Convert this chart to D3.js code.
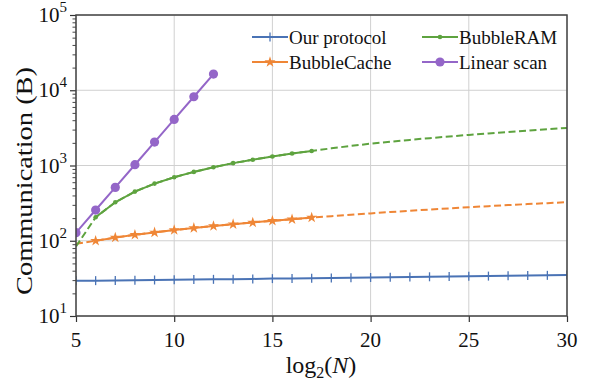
<!DOCTYPE html>
<html>
<head>
<meta charset="utf-8">
<script src="https://cdn.jsdelivr.net/npm/d3@7"></script>
</head>
<body style="margin:0">
<svg id="chart" width="589" height="381"></svg>
<script>
// x values: log2(N)
const xs = d3.range(5, 31);
const xTicks = [5, 10, 15, 20, 25, 30];
const yTicks = [1e1, 1e2, 1e3, 1e4, 1e5];

// measured part of the bubble curves (solid), rest is projected (dashed)
const measuredRange = [6, 17];

const ourProtocol = [29.3, 29.5, 29.7, 29.9, 30.1, 30.3, 30.5, 30.7, 30.9, 31.1, 31.4, 31.6, 31.8,
  32.0, 32.3, 32.5, 32.7, 33.0, 33.2, 33.4, 33.7, 33.9, 34.2, 34.4, 34.7, 35.0];
const bubbleCache = [91, 100, 110, 120, 129, 139, 148, 157, 166, 175, 184, 193, 203,
  212, 222, 231, 241, 250, 260, 269, 279, 288, 298, 307, 316, 326];
const bubbleRAM = [84, 205, 325, 450, 575, 698, 822, 949, 1075, 1195, 1320, 1445, 1560,
  1690, 1820, 1950, 2070, 2190, 2310, 2430, 2550, 2670, 2790, 2910, 3030, 3160];
const linearX = [5, 6, 7, 8, 9, 10, 11, 12];
const linearScan = [128, 256, 512, 1024, 2048, 4096, 8192, 16384];

const colors = { ours: '#4a73b5', cache: '#ef8636', ram: '#5ea33f', linear: '#9466c8' };
const serif = 'Liberation Serif';

const width = 589, height = 381;
const margin = { top: 15, right: 22, bottom: 65, left: 76 };
const innerWidth = width - margin.left - margin.right;
const innerHeight = height - margin.top - margin.bottom;

const svg = d3.select('#chart');
const g = svg.append('g').attr('transform', `translate(${margin.left},${margin.top})`);

const xScale = d3.scaleLinear().domain([5, 30]).range([0, innerWidth]);
const yScale = d3.scaleLog().domain([1e1, 1e5]).range([innerHeight, 0]);

svg.append('defs').append('clipPath').attr('id', 'clip')
  .append('rect').attr('width', innerWidth).attr('height', innerHeight);

// grid
g.append('g').selectAll('line').data(xTicks).join('line')
  .attr('x1', d => xScale(d)).attr('x2', d => xScale(d))
  .attr('y1', 0).attr('y2', innerHeight)
  .attr('stroke', '#d0d0d0').attr('stroke-width', 1);
g.append('g').selectAll('line').data(yTicks).join('line')
  .attr('y1', d => yScale(d)).attr('y2', d => yScale(d))
  .attr('x1', 0).attr('x2', innerWidth)
  .attr('stroke', '#d0d0d0').attr('stroke-width', 1);

// x axis ticks, labels drawn as plain texts
const xg = g.append('g').attr('transform', `translate(0,${innerHeight})`)
  .call(d3.axisBottom(xScale).tickValues(xTicks).tickSize(6).tickFormat(''));
xg.select('.domain').remove();
xg.selectAll('line').attr('stroke', '#333').attr('stroke-width', 1.2);
g.append('g').selectAll('text').data(xTicks).join('text')
  .attr('x', d => xScale(d)).attr('y', innerHeight + 31)
  .attr('text-anchor', 'middle').attr('font-family', serif).attr('font-size', 21).attr('fill', '#111')
  .text(d => d);

// y axis
const minorY = [];
for (let e = 1; e < 5; e++) for (let m = 2; m < 10; m++) minorY.push(m * Math.pow(10, e));
const yMinor = g.append('g').call(d3.axisLeft(yScale).tickValues(minorY).tickSize(3.5).tickFormat(''));
yMinor.select('.domain').remove();
yMinor.selectAll('line').attr('stroke', '#333').attr('stroke-width', 0.9);

const yg = g.append('g').call(d3.axisLeft(yScale).tickValues(yTicks).tickSize(6).tickFormat(''));
yg.select('.domain').remove();
yg.selectAll('line').attr('stroke', '#333').attr('stroke-width', 1.2);
const ylab = g.append('g').selectAll('text').data(yTicks).join('text')
  .attr('x', -9).attr('y', d => yScale(d) + 7).attr('text-anchor', 'end')
  .attr('font-family', serif).attr('font-size', 21).attr('fill', '#111');
ylab.append('tspan').text('10');
ylab.append('tspan').attr('font-size', 15).attr('dy', -10).text(d => Math.round(Math.log10(d)));

// series
const plot = g.append('g').attr('clip-path', 'url(#clip)');
const line = d3.line().x(d => xScale(d[0])).y(d => yScale(d[1]));
const pairs = (xv, yv) => xv.map((x, i) => [x, yv[i]]);
const inMeasured = d => d[0] >= measuredRange[0] && d[0] <= measuredRange[1];

const oursPts = pairs(xs, ourProtocol);
const cachePts = pairs(xs, bubbleCache);
const ramPts = pairs(xs, bubbleRAM);
const linPts = pairs(linearX, linearScan);

[[cachePts, colors.cache], [ramPts, colors.ram]].forEach(([pts, c]) => {
  plot.append('path').datum(pts).attr('d', line)
    .attr('fill', 'none').attr('stroke', c).attr('stroke-width', 2)
    .attr('stroke-dasharray', '7,3.5');
});

function solid(pts, c) {
  plot.append('path').datum(pts).attr('d', line)
    .attr('fill', 'none').attr('stroke', c).attr('stroke-width', 2);
}
solid(oursPts, colors.ours);
solid(cachePts.filter(inMeasured), colors.cache);
solid(ramPts.filter(inMeasured), colors.ram);
solid(linPts, colors.linear);

// markers
const star = d3.symbol().type(d3.symbolStar).size(38);
plot.append('g').selectAll('path').data(oursPts).join('path')
  .attr('d', d => `M${xScale(d[0])},${yScale(d[1]) - 4.5}v9`)
  .attr('stroke', colors.ours).attr('stroke-width', 1.3);
plot.append('g').selectAll('path').data(cachePts.filter(inMeasured)).join('path')
  .attr('d', star).attr('transform', d => `translate(${xScale(d[0])},${yScale(d[1])})`)
  .attr('fill', colors.cache);
plot.append('g').selectAll('circle').data(ramPts.filter(inMeasured)).join('circle')
  .attr('cx', d => xScale(d[0])).attr('cy', d => yScale(d[1])).attr('r', 2.3)
  .attr('fill', colors.ram);
plot.append('g').selectAll('circle').data(linPts).join('circle')
  .attr('cx', d => xScale(d[0])).attr('cy', d => yScale(d[1])).attr('r', 4.6)
  .attr('fill', colors.linear);

// frame
g.append('rect').attr('width', innerWidth).attr('height', innerHeight)
  .attr('fill', 'none').attr('stroke', '#444').attr('stroke-width', 1.5);

// legend
const legendItems = [
  { label: 'Our protocol', color: colors.ours, mark: 'plus', x: 252, y: 37 },
  { label: 'BubbleCache', color: colors.cache, mark: 'star', x: 252, y: 62 },
  { label: 'BubbleRAM', color: colors.ram, mark: 'dot', x: 422, y: 37 },
  { label: 'Linear scan', color: colors.linear, mark: 'circle', x: 422, y: 62 }
];
const lg = svg.append('g');
legendItems.forEach(it => {
  const item = lg.append('g').attr('transform', `translate(${it.x},${it.y})`);
  item.append('line').attr('x1', 0).attr('x2', 36).attr('stroke', it.color).attr('stroke-width', 2);
  if (it.mark === 'plus') item.append('path').attr('d', 'M18,-4.5v9').attr('stroke', it.color).attr('stroke-width', 1.3);
  if (it.mark === 'star') item.append('path').attr('d', star).attr('transform', 'translate(18,0)').attr('fill', it.color);
  if (it.mark === 'dot') item.append('circle').attr('cx', 18).attr('r', 2.3).attr('fill', it.color);
  if (it.mark === 'circle') item.append('circle').attr('cx', 18).attr('r', 4.6).attr('fill', it.color);
  item.append('text').attr('x', 37).attr('y', 6.5).attr('font-family', serif)
    .attr('font-size', 19).attr('fill', '#111').text(it.label);
});

// axis labels
svg.append('text').attr('transform', 'translate(32,181) rotate(-90)')
  .attr('text-anchor', 'middle').attr('font-family', serif).attr('font-size', 23).attr('fill', '#111')
  .attr('textLength', 228).attr('lengthAdjust', 'spacingAndGlyphs')
  .text('Communication (B)');

const xl = svg.append('text').attr('x', 321).attr('y', 373).attr('text-anchor', 'middle')
  .attr('font-family', serif).attr('font-size', 24).attr('fill', '#111');
xl.append('tspan').text('log');
xl.append('tspan').attr('font-size', 16).attr('dy', 5).text('2');
xl.append('tspan').attr('dy', -5).text('(');
xl.append('tspan').attr('font-style', 'italic').text('N');
xl.append('tspan').text(')');
</script>
</body>
</html>
